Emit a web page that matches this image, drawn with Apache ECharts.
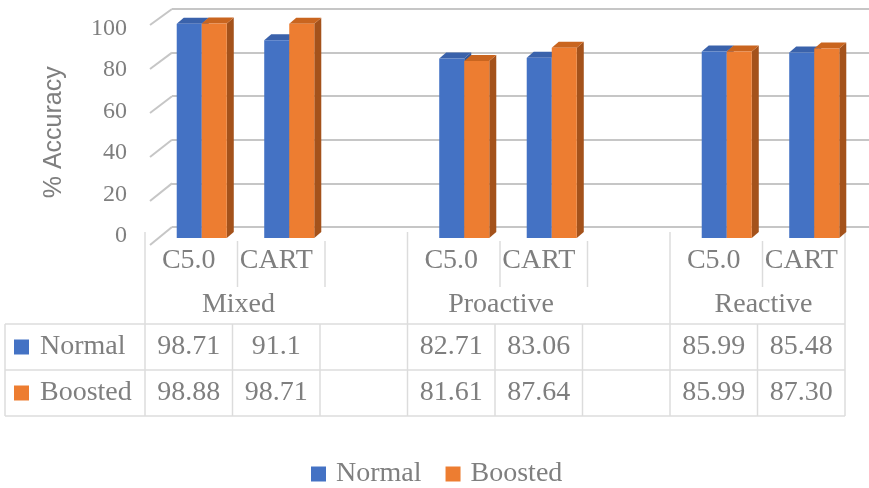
<!DOCTYPE html>
<html>
<head>
<meta charset="utf-8">
<script src="https://cdn.jsdelivr.net/npm/echarts@6/dist/echarts.min.js"></script>
<style>
  html, body { margin: 0; padding: 0; background: #ffffff; }
  #chart { width: 869px; height: 488px; }
</style>
</head>
<body>
<div id="chart"></div>
<script>
// ---- data ----
const categories = ['C5.0', 'CART', '', 'C5.0', 'CART', '', 'C5.0', 'CART'];
const groupNames = ['Mixed', 'Proactive', 'Reactive'];
const groupStarts = [0, 3, 6];
const seriesNames = ['Normal', 'Boosted'];
// accuracy values as printed in the data table (blank = spacer column)
const normalValues = ['98.71', '91.1', '', '82.71', '83.06', '', '85.99', '85.48'];
const boostedValues = ['98.88', '98.71', '', '81.61', '87.64', '', '85.99', '87.30'];
const yMin = 0, yMax = 100, yStep = 20;

// ---- styling ----
const SERIF = '"Liberation Serif", "Times New Roman", serif';
const SANS = '"Liberation Sans", Arial, sans-serif';
const GREY = '#7f7f7f';
const GRID_LINE = '#c6c6c6';
const TABLE_LINE = '#dcdcdc';
const colors = {
  Normal:  { front: '#4472C4', top: '#3a62ab', side: '#2f5597' },
  Boosted: { front: '#ED7D31', top: '#c9651f', side: '#a4521b' }
};
const BAR_RATIO = 0.286;   // bar width as a share of one category
const DEPTH_X = 7, DEPTH_Y = 6;

const chart = echarts.init(document.getElementById('chart'), null, { renderer: 'canvas' });

function toPairs(list) {
  return list.map((s, i) => (s === '' ? null : [i, parseFloat(s)])).filter(Boolean);
}

// a column with a lit front, a top face and a shaded right side
function boxRenderer(pal, side) {
  return function (params, api) {
    const i = api.value(0), v = api.value(1);
    const base = api.coord([i, 0]);
    const peak = api.coord([i, v]);
    const w = api.size([1, 0])[0] * BAR_RATIO;
    const x0 = side < 0 ? base[0] - w : base[0];
    const x1 = x0 + w, yb = base[1], yt = peak[1];
    return {
      type: 'group',
      children: [
        { type: 'polygon', shape: { points: [[x1, yb], [x1, yt], [x1 + DEPTH_X, yt - DEPTH_Y], [x1 + DEPTH_X, yb - DEPTH_Y]] }, style: { fill: pal.side } },
        { type: 'polygon', shape: { points: [[x0, yt], [x1, yt], [x1 + DEPTH_X, yt - DEPTH_Y], [x0 + DEPTH_X, yt - DEPTH_Y]] }, style: { fill: pal.top } },
        { type: 'rect', shape: { x: x0, y: yt, width: w, height: yb - yt }, style: { fill: pal.front } }
      ]
    };
  };
}

const hiddenValueX = (g) => ({ gridIndex: g, type: 'value', min: 0, max: 1, show: false });

const option = {
  animation: false,
  backgroundColor: '#ffffff',
  grid: [
    { left: 158, right: 11, top: 21, bottom: 250 },   // 0: columns
    { left: 172, right: 0, top: 9, bottom: 261 },     // 1: back wall
    { left: 135, width: 10, top: 28.5, bottom: 252 }, // 2: value labels
    { left: 150, width: 22, top: 25, bottom: 243 },   // 3: front edge of side wall
    { left: 145, right: 24, top: 100, bottom: 250 }   // 4: category / table columns
  ],
  xAxis: [
    { gridIndex: 0, type: 'category', data: categories, show: false },
    hiddenValueX(1),
    hiddenValueX(2),
    hiddenValueX(3),
    {
      gridIndex: 4, type: 'category', data: categories,
      axisLine: { show: false }, axisTick: { show: false },
      axisLabel: { interval: 0, margin: 9, fontFamily: SERIF, fontSize: 28, color: GREY }
    }
  ],
  yAxis: [
    { gridIndex: 0, type: 'value', min: yMin, max: yMax, show: false },
    {
      gridIndex: 1, type: 'value', min: yMin, max: yMax, interval: yStep,
      axisLine: { show: false }, axisTick: { show: false }, axisLabel: { show: false },
      splitLine: { show: true, lineStyle: { color: GRID_LINE, width: 2 } }
    },
    {
      gridIndex: 2, type: 'value', min: yMin, max: yMax, interval: yStep,
      axisLine: { show: false }, axisTick: { show: false }, splitLine: { show: false },
      axisLabel: { margin: 8, fontFamily: SERIF, fontSize: 24, color: GREY },
      name: '% Accuracy', nameLocation: 'middle', nameGap: 68,
      nameTextStyle: { fontFamily: SANS, fontSize: 25, color: GREY }
    },
    { gridIndex: 3, type: 'value', min: yMin, max: yMax, show: false },
    { gridIndex: 4, type: 'value', min: 0, max: 1, show: false }
  ],
  legend: {
    data: seriesNames,
    left: 306, top: 455,
    itemWidth: 15, itemHeight: 15, itemGap: 24,
    icon: 'rect',
    textStyle: { fontFamily: SERIF, fontSize: 28, color: GREY, padding: [0, 0, 0, 5] }
  },
  series: [
    {
      name: seriesNames[0], type: 'custom', xAxisIndex: 0, yAxisIndex: 0, z: 3,
      itemStyle: { color: colors.Normal.front }, silent: true,
      renderItem: boxRenderer(colors.Normal, -1), data: toPairs(normalValues)
    },
    {
      name: seriesNames[1], type: 'custom', xAxisIndex: 0, yAxisIndex: 0, z: 4,
      itemStyle: { color: colors.Boosted.front }, silent: true,
      renderItem: boxRenderer(colors.Boosted, 1), data: toPairs(boostedValues)
    }
  ]
};
chart.setOption(option);

// ---- side wall, group headers and data table, placed from the axes ----
const HEADER_TOP = 232, SUB_TOP = 241, SUB_BOTTOM = 287, SUB_SHIFT = 5;
const GROUP_LABEL_Y = 305, GROUP_LABEL_SHIFT = 6;
const ROW_LINES = [324, 370, 416];
const TABLE_LEFT = 5, KEY_X = 14, KEY_SIZE = 15, ROW_LABEL_X = 40;

const colX = (i) => chart.convertToPixel({ xAxisIndex: 4 }, i);
const step = colX(1) - colX(0);
const edge = (k) => colX(0) - step / 2 + k * step;
const nCols = categories.length;
const groupEdges = groupStarts.concat([nCols]);

const g = [];
const line = (x1, y1, x2, y2, color, width) => g.push({
  type: 'line', silent: true, z: 1,
  shape: { x1, y1, x2, y2 },
  style: { stroke: color, lineWidth: width }
});
const text = (x, y, str, align, size, family) => g.push({
  type: 'text', silent: true, z: 5, x, y,
  style: { text: str, fill: GREY, font: size + 'px ' + family, align, verticalAlign: 'middle' }
});

// side wall
const sideX = chart.convertToPixel({ xAxisIndex: 3 }, 0);
const wallX = chart.convertToPixel({ xAxisIndex: 1 }, 0);
for (let v = yMin; v <= yMax; v += yStep) {
  line(sideX, chart.convertToPixel({ yAxisIndex: 3 }, v), wallX, chart.convertToPixel({ yAxisIndex: 1 }, v), GRID_LINE, 2);
}

// group header dividers and labels
groupEdges.forEach((k) => line(edge(k), HEADER_TOP, edge(k), ROW_LINES[0], TABLE_LINE, 1.5));
for (let k = 1; k < nCols; k++) {
  if (groupEdges.indexOf(k) === -1) line(edge(k) + SUB_SHIFT, SUB_TOP, edge(k) + SUB_SHIFT, SUB_BOTTOM, TABLE_LINE, 1.5);
}
groupNames.forEach((name, gi) => {
  const s = groupStarts[gi];
  text((edge(s) + edge(s + 2)) / 2 + GROUP_LABEL_SHIFT, GROUP_LABEL_Y, name, 'center', 28, SERIF);
});

// data table
ROW_LINES.forEach((y) => line(TABLE_LEFT, y, edge(nCols), y, TABLE_LINE, 1.5));
line(TABLE_LEFT, ROW_LINES[0], TABLE_LEFT, ROW_LINES[2], TABLE_LINE, 1.5);
for (let k = 0; k <= nCols; k++) line(edge(k), ROW_LINES[0], edge(k), ROW_LINES[2], TABLE_LINE, 1.5);

[normalValues, boostedValues].forEach((vals, r) => {
  const yc = (ROW_LINES[r] + ROW_LINES[r + 1]) / 2;
  const pal = colors[seriesNames[r]];
  g.push({ type: 'rect', silent: true, z: 5, shape: { x: KEY_X, y: yc - KEY_SIZE / 2, width: KEY_SIZE, height: KEY_SIZE }, style: { fill: pal.front } });
  text(ROW_LABEL_X, yc, seriesNames[r], 'left', 28, SERIF);
  vals.forEach((s, i) => { if (s !== '') text(colX(i), yc, s, 'center', 28, SERIF); });
});

chart.setOption({ graphic: { elements: g } });
</script>
</body>
</html>
